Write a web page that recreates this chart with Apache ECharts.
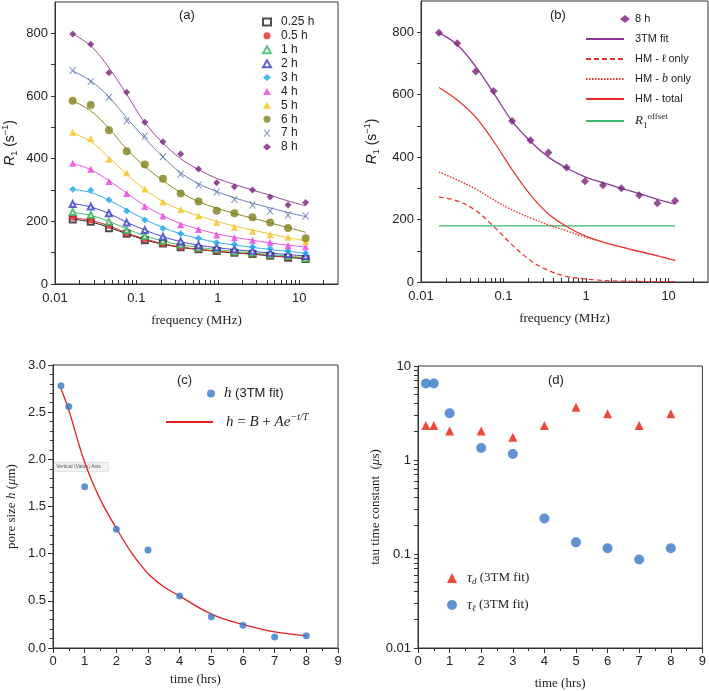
<!DOCTYPE html>
<html><head><meta charset="utf-8">
<script src="https://cdn.jsdelivr.net/npm/echarts@6/dist/echarts.min.js"></script>
<style>html,body{margin:0;padding:0;background:#fff}#c{width:709px;height:691px}</style>
</head><body><div id="c"></div>
<script>
// ---------- data: panel (a) ----------
const freqs = [0.0165,0.0275,0.046,0.076,0.127,0.212,0.35,0.58,0.97,1.6,2.67,4.4,7.3,12];
const seriesNames = ['0.25 h','0.5 h','1 h','2 h','3 h','4 h','5 h','6 h','7 h','8 h'];
const r1_025 = [206,199,178,160,140,129,117,111,105,100,96,90,84,80];
const r1_05  = [213,204,187,162,143,130,118,111,105,100,96,90,85,82];
const r1_1   = [230,220,199,172,153,138,126,116,111,104,100,94,89,81];
const r1_2   = [255,247,226,196,172,151,136,124,117,111,106,100,96,89];
const r1_3   = [302,299,268,233,204,177,160,146,132,127,119,114,106,98];
const r1_4   = [385,366,327,289,247,217,189,174,156,148,140,133,123,119];
const r1_5   = [484,464,398,355,303,262,238,218,196,181,168,157,149,136];
const r1_6   = [585,571,491,424,381,336,289,263,234,226,213,196,179,146];
const r1_7   = [681,646,596,521,472,406,350,316,294,270,252,233,220,217];
const r1_8   = [798,765,674,612,516,454,415,367,323,310,300,278,252,260];
// fitted curves read at the same frequencies
const fit_025 = [207,198,181,160,141,127,117,110,104,99,95,90,85,80];
const fit_05  = [212,203,186,163,144,129,118,111,105,100,96,91,86,82];
const fit_1   = [228,219,200,176,154,137,125,117,110,104,99,94,89,84];
const fit_2   = [257,246,225,197,172,151,135,124,116,110,104,99,94,89];
const fit_3   = [302,292,268,237,206,180,160,145,133,124,117,110,104,98];
const fit_4   = [385,365,330,290,250,218,193,175,160,149,140,131,124,118];
const fit_5   = [482,455,404,350,302,263,237,218,200,185,172,160,148,138];
const fit_6   = [585,552,497,430,375,330,292,263,242,225,210,195,180,165];
const fit_7   = [680,648,597,530,465,405,355,320,295,275,258,243,228,215];
const fit_8   = [798,760,690,605,515,450,400,365,337,318,300,283,265,250];
// ---------- data: panel (b) ----------
const hmEllOnly = [272,260,229,178,119,69,37,18,10,5,3,2,1,1];
const hmBOnly   = [352,327,298,263,231,205,183,164,144,128,112,98,84,69];
const hmTotal   = [623,583,528,450,360,279,218,178,148,128,112,98,84,69];
const r1Offset  = [180,180,180,180,180,180,180,180,180,180,180,180,180,180];
// ---------- data: panel (c) ----------
const timeHrs = [0.25,0.5,1,2,3,4,5,6,7,8];
const poreH   = [2.78,2.56,1.71,1.26,1.04,0.55,0.33,0.24,0.117,0.131];
const fitT    = [0.25,0.5,1,1.5,2,2.5,3,3.5,4,5,6,7,8];
const fitH    = [2.75,2.52,1.97,1.57,1.27,1.00,0.79,0.65,0.55,0.36,0.25,0.17,0.13];
// ---------- data: panel (d) ----------
const tauD   = [2.33,2.33,2.04,2.04,1.75,2.33,3.63,3.11,2.33,3.11];
const tauEll = [6.5,6.5,3.14,1.34,1.16,0.239,0.133,0.115,0.0875,0.115];
// ---------- ticks ----------
const logLabels = [0.01,0.1,1,10];
const logTicksX = [0.01,0.02,0.03,0.04,0.05,0.06,0.07,0.08,0.09,0.1,0.2,0.3,0.4,0.5,0.6,0.7,0.8,0.9,
                   1,2,3,4,5,6,7,8,9,10,20];
const logTicksY = [0.01,0.02,0.03,0.04,0.05,0.06,0.07,0.08,0.09,0.1,0.2,0.3,0.4,0.5,0.6,0.7,0.8,0.9,
                   1,2,3,4,5,6,7,8,9,10];
const r1Labels = [0,200,400,600,800];
const r1Ticks  = [0,100,200,300,400,500,600,700,800];

const SANS = 'Liberation Sans, Arial, sans-serif';
const SERIF = 'Liberation Serif, Times New Roman, serif';
const AX = '#333';
const colors = ['#222222','#e8262a','#2fb457','#3a3ac8','#1aa6ea','#e93fe0','#f6c21a','#7f7f1a','#5570a8','#7a1f7a'];
const fitColors = ['#222222','#e8262a','#3cbf60','#4a4ad0','#30b0ee','#ec55e4','#f5c52a','#8a8a22','#6a82b5','#9a4a9e'];
const symbols = ['emptyRect','circle','emptyTriangle','emptyTriangle','diamond','triangle','triangle','circle',
  'path://M0,0L1.8,0L5,4L8.2,0L10,0L6,5L10,10L8.2,10L5,6L1.8,10L0,10L4,5Z','diamond'];
const symSizes = [6,7,6,6,7,7,7,8,7,7];
const ptData = [r1_025,r1_05,r1_1,r1_2,r1_3,r1_4,r1_5,r1_6,r1_7,r1_8];
const fitData = [fit_025,fit_05,fit_1,fit_2,fit_3,fit_4,fit_5,fit_6,fit_7,fit_8];
const pair = (xs, ys) => xs.map((x,i)=>[x, ys[i]]);

const G = [{left:55, top:2, width:283, height:282},{left:421, top:1, width:287, height:281},
           {left:53, top:365, width:285, height:283},{left:418, top:366, width:287, height:284}];

const chart = echarts.init(document.getElementById('c'));

function logX(gi, name) {
  return {type:'log', gridIndex:gi, position:'bottom', min:0.01, max:30, logBase:10,
    axisLine:{show:true, onZero:false, lineStyle:{color:AX}},
    axisTick:{show:true, inside:true, length:4, customValues:logTicksX, lineStyle:{color:AX}},
    axisLabel:{customValues:logLabels, color:'#222', fontFamily:SANS, fontSize:13, margin:8,
      formatter: v => String(+v.toPrecision(2))},
    splitLine:{show:false}, minorTick:{show:false},
    name:name, nameLocation:'middle', nameGap:30,
    nameTextStyle:{fontFamily:SERIF, fontSize:13, color:'#222'}};
}
function r1Y(gi, gap) {
  return {type:'value', gridIndex:gi, position:'left', min:0, max:900,
    axisLine:{show:true, onZero:false, lineStyle:{color:AX}},
    axisTick:{show:true, length:4, customValues:r1Ticks, lineStyle:{color:AX}},
    axisLabel:{customValues:r1Labels, color:'#222', fontFamily:SANS, fontSize:13, margin:7},
    splitLine:{show:false},
    name:'{i|R}{sub|1} (s{sup|−1})', nameLocation:'middle', nameGap:gap,
    nameTextStyle:{fontFamily:SANS, fontSize:14, color:'#222',
      rich:{i:{fontStyle:'italic', fontFamily:SANS, fontSize:14, lineHeight:18},
            sub:{fontSize:9, verticalAlign:'bottom', lineHeight:12},
            sup:{fontSize:9, verticalAlign:'top', lineHeight:12}}}};
}
function timeX(gi, gap) {
  return {type:'value', gridIndex:gi, position:'bottom', min:0, max:9, interval:1,
    axisLine:{show:true, onZero:false, lineStyle:{color:AX}},
    axisTick:{show:true, length:5, lineStyle:{color:AX}},
    minorTick:{show:true, splitNumber:2, length:3, lineStyle:{color:AX}},
    axisLabel:{color:'#222', fontFamily:SANS, fontSize:13, margin:7},
    splitLine:{show:false},
    name:'time (hrs)', nameLocation:'middle', nameGap:gap,
    nameTextStyle:{fontFamily:SERIF, fontSize:13, color:'#222'}};
}
function lineSeries(name, xi, yi, xs, ys, color, width, type, smooth) {
  return {type:'line', name:name, xAxisIndex:xi, yAxisIndex:yi, data:pair(xs, ys),
    smooth:smooth, symbol:'circle', showSymbol:false, itemStyle:{color:color},
    lineStyle:{color:color, width:width, type:type}, silent:true};
}

const series = [];
for (let k=0;k<10;k++) {
  const s = lineSeries('fit '+seriesNames[k], 0, 0, freqs, fitData[k], fitColors[k], 1, 'solid', 0.35);
  s.z = 2;
  series.push(s);
}
for (let k=0;k<10;k++) {
  series.push({type:'scatter', name:seriesNames[k], xAxisIndex:0, yAxisIndex:0,
    data:pair(freqs, ptData[k]), symbol:symbols[k], symbolSize:symSizes[k],
    itemStyle:{color:colors[k], borderWidth: symbols[k].indexOf('empty')===0 ? 1 : 0}, z:3});
}
// panel (b)
series.push(lineSeries('R1 offset', 1, 1, freqs, r1Offset, '#3cb96a', 1.2, 'solid', 0));
series.push(lineSeries('HM - ℓ only', 1, 1, freqs, hmEllOnly, '#e8302a', 1.2, [5,3], 0.35));
series.push(lineSeries('HM - b only', 1, 1, freqs, hmBOnly, '#e8302a', 1.4, [1.5,1.5], 0.35));
series.push(lineSeries('HM - total', 1, 1, freqs, hmTotal, '#e8302a', 1.2, 'solid', 0.35));
series.push(lineSeries('3TM fit', 1, 1, freqs, fit_8, '#8a3a94', 1.3, 'solid', 0.35));
series.push({type:'scatter', name:'8 h ', xAxisIndex:1, yAxisIndex:1, data:pair(freqs, r1_8),
  symbol:'diamond', symbolSize:8, itemStyle:{color:'#7a1f7a'}, z:4});
// panel (c)
series.push(lineSeries('h fit', 2, 2, fitT, fitH, '#e02020', 1.3, 'solid', 0.4));
series.push({type:'scatter', name:'h (3TM fit)', xAxisIndex:2, yAxisIndex:2, data:pair(timeHrs, poreH),
  symbol:'circle', symbolSize:7, itemStyle:{color:'#3a78c8'}, z:4});
// panel (d)
series.push({type:'scatter', name:'tau_d', xAxisIndex:3, yAxisIndex:3, data:pair(timeHrs, tauD),
  symbol:'triangle', symbolSize:9, itemStyle:{color:'#e81d0e'}});
series.push({type:'scatter', name:'tau_l', xAxisIndex:3, yAxisIndex:3, data:pair(timeHrs, tauEll),
  symbol:'circle', symbolSize:10, itemStyle:{color:'#3a78c8'}});

const option = {
  animation:false,
  backgroundColor:'#fff',
  title:[
    {text:'(a)', left:179, top:9, padding:0, textStyle:{fontFamily:SANS, fontSize:13, fontWeight:'normal', color:'#222'}},
    {text:'(b)', left:550, top:9, padding:0, textStyle:{fontFamily:SANS, fontSize:13, fontWeight:'normal', color:'#222'}},
    {text:'(c)', left:177, top:374, padding:0, textStyle:{fontFamily:SANS, fontSize:13, fontWeight:'normal', color:'#222'}},
    {text:'(d)', left:548, top:374, padding:0, textStyle:{fontFamily:SANS, fontSize:13, fontWeight:'normal', color:'#222'}}
  ],
  grid: G.map(g => Object.assign({show:true, borderColor:AX, borderWidth:1}, g)),
  xAxis:[
    logX(0,'frequency (MHz)'),
    logX(1,'frequency (MHz)'),
    timeX(2, 25), timeX(3, 29)
  ],
  yAxis:[
    r1Y(0, 36),
    r1Y(1, 40),
    {type:'value', gridIndex:2, position:'left', min:0, max:3, interval:0.5,
      axisLine:{show:true, onZero:false, lineStyle:{color:AX}},
      axisTick:{show:true, length:5, lineStyle:{color:AX}},
      minorTick:{show:true, splitNumber:5, length:3, lineStyle:{color:AX}},
      axisLabel:{color:'#222', fontFamily:SANS, fontSize:13, margin:7, formatter:v=>v.toFixed(1)},
      splitLine:{show:false},
      name:'pore size {i|h} ({i|μ}m)', nameLocation:'middle', nameGap:35,
      nameTextStyle:{fontFamily:SERIF, fontSize:13, color:'#222',
        rich:{i:{fontStyle:'italic', fontFamily:SERIF, fontSize:13}}}},
    {type:'log', gridIndex:3, position:'left', min:0.01, max:10, logBase:10,
      axisLine:{show:true, onZero:false, lineStyle:{color:AX}},
      axisTick:{show:true, length:4, customValues:logTicksY, lineStyle:{color:AX}},
      axisLabel:{customValues:logLabels, color:'#222', fontFamily:SANS, fontSize:13, margin:7,
        formatter: v => String(+v.toPrecision(2))},
      splitLine:{show:false},
      name:'tau time constant  ({i|μ}s)', nameLocation:'middle', nameGap:32,
      nameTextStyle:{fontFamily:SERIF, fontSize:13, color:'#222',
        rich:{i:{fontStyle:'italic', fontFamily:SERIF, fontSize:13}}}}
  ],
  legend:[
    {data:seriesNames, orient:'vertical', left:262, top:15, padding:0, itemWidth:8, itemHeight:7, itemGap:0,
      textStyle:{fontFamily:SANS, fontSize:12, color:'#222', lineHeight:13.9, padding:[0,0,0,5]}},
    {data:['8 h '], orient:'vertical', left:620, top:12, padding:0, itemWidth:10, itemHeight:8, itemGap:0,
      textStyle:{fontFamily:SANS, fontSize:11, color:'#222', lineHeight:14, padding:[0,0,0,0]}},
    {data:['3TM fit','HM - ℓ only','HM - b only','HM - total','R1 offset'], orient:'vertical',
      left:585, top:32, padding:0, itemWidth:38, itemHeight:10, itemGap:6,
      itemStyle:{opacity:0},
      formatter: n => n==='HM - b only' ? 'HM - {i|b} only' : (n==='R1 offset' ? '{r|R}{sub|1}{sup|offset}' : n),
      textStyle:{fontFamily:SANS, fontSize:11, color:'#222', lineHeight:14, padding:[0,0,0,6],
        rich:{i:{fontStyle:'italic', fontFamily:SERIF, fontSize:12},
              r:{fontStyle:'italic', fontFamily:SERIF, fontSize:13, lineHeight:18},
              sub:{fontFamily:SERIF, fontSize:9, verticalAlign:'bottom', lineHeight:11},
              sup:{fontFamily:SERIF, fontSize:9, verticalAlign:'top', lineHeight:11}}}},
    {data:['h (3TM fit)'], orient:'vertical', left:207, top:386, padding:0, itemWidth:10, itemHeight:8,
      formatter: () => '{i|h} (3TM fit)',
      textStyle:{fontFamily:SANS, fontSize:13, color:'#222', padding:[0,0,0,3],
        rich:{i:{fontStyle:'italic', fontFamily:SERIF, fontSize:15}}}},
    {data:['h fit'], orient:'vertical', left:165, top:412, padding:0, itemWidth:47, itemHeight:10,
      itemStyle:{opacity:0},
      formatter: () => '{i|h} = {i|B} + {i|Ae}{sup|−t/T}',
      textStyle:{fontFamily:SERIF, fontSize:15, color:'#222', padding:[0,0,0,8],
        rich:{i:{fontStyle:'italic', fontFamily:SERIF, fontSize:15, lineHeight:20},
              sup:{fontStyle:'italic', fontFamily:SERIF, fontSize:10, verticalAlign:'top', lineHeight:12}}}},
    {data:['tau_d','tau_l'], orient:'vertical', left:447, top:571, padding:0, itemWidth:10, itemHeight:10, itemGap:12,
      formatter: n => n==='tau_d' ? '{i|τ}{sub|d} (3TM fit)' : '{i|τ}{sub|ℓ} (3TM fit)',
      textStyle:{fontFamily:SERIF, fontSize:13, color:'#222', padding:[0,0,0,5],
        rich:{i:{fontStyle:'italic', fontFamily:SERIF, fontSize:14, lineHeight:16},
              sub:{fontStyle:'italic', fontFamily:SERIF, fontSize:9, verticalAlign:'bottom', lineHeight:11}}}}
  ],
  graphic:[
    {type:'group', left:53, top:462, children:[
      {type:'rect', shape:{x:0,y:0,width:55,height:9,r:1}, style:{fill:'#f4f4f4', stroke:'#c8c8c8', lineWidth:0.6}},
      {type:'text', x:3, y:2, style:{text:'Vertical (Value) Axis', fontSize:5, fontFamily:SANS, fill:'#555'}}
    ]}
  ],
  series: series
};
chart.setOption(option);
</script>
</body></html>
